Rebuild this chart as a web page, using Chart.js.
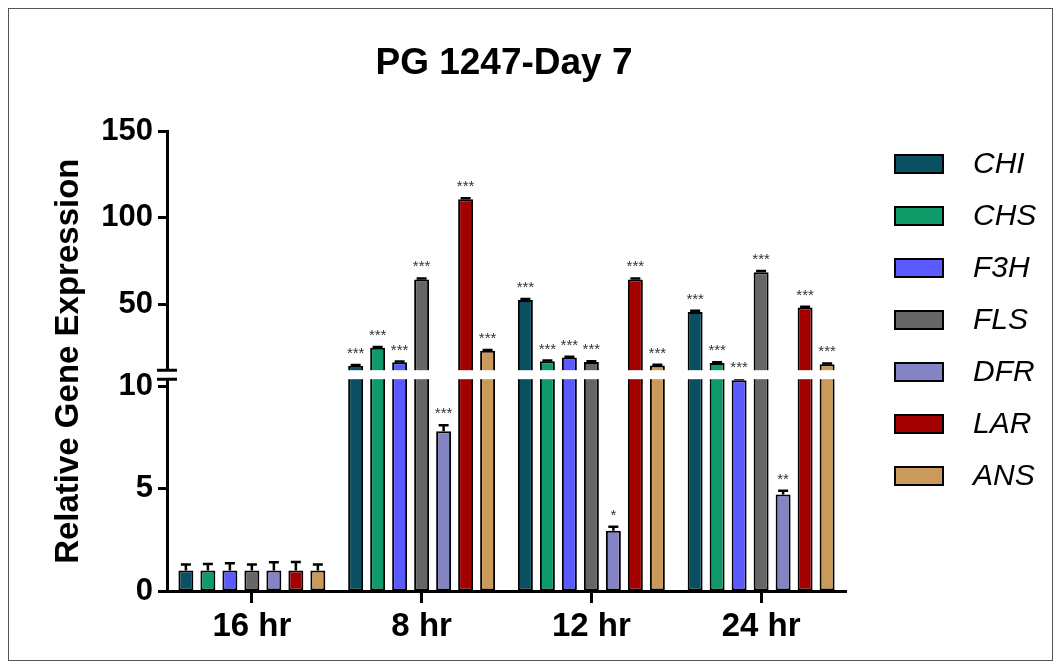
<!DOCTYPE html>
<html>
<head>
<meta charset="utf-8">
<script src="https://cdn.jsdelivr.net/npm/chart.js@4.4.1/dist/chart.umd.min.js"></script>
<style>
  html, body { margin: 0; padding: 0; background: #fff; }
  #wrap { position: relative; width: 1061px; height: 668px; }
  #frame { position: absolute; left: 8px; top: 8px; width: 1043px; height: 651px; border: 1px solid #555; pointer-events: none; }
</style>
</head>
<body>
<div id="wrap">
  <canvas id="myChart" width="1061" height="668"></canvas>
  <div id="frame"></div>
</div>
<script>
// categories and tick labels
const timePoints = ["16 hr", "8 hr", "12 hr", "24 hr"];
const yTicks = [0, 5, 10, 50, 100, 150];

// mean values per gene (16 hr, 8 hr, 12 hr, 24 hr)
const chiValues = [1.0, 14.5, 52.5, 45.7];
const chsValues = [1.0, 24.9, 17.2, 16.2];
const f3hValues = [1.0, 16.6, 19.3, 10.3];
const flsValues = [1.0, 64.4, 16.8, 68.6];
const dfrValues = [1.0, 7.8, 2.94, 4.72];
const larValues = [1.0, 110.8, 64.4, 48.2];
const ansValues = [1.0, 23.2, 14.7, 15.5];

// error bars (upper half only)
const chiErrors = [0.30, 0.5, 0.6, 0.6];
const chsErrors = [0.32, 0.5, 0.4, 0.4];
const f3hErrors = [0.35, 0.4, 0.4, 0.1];
const flsErrors = [0.30, 0.6, 0.4, 0.7];
const dfrErrors = [0.40, 0.3, 0.2, 0.18];
const larErrors = [0.42, 0.6, 0.6, 0.5];
const ansErrors = [0.30, 0.5, 0.4, 0.4];

// significance marks
const chiStars = ["", "***", "***", "***"];
const chsStars = ["", "***", "***", "***"];
const f3hStars = ["", "***", "***", "***"];
const flsStars = ["", "***", "***", "***"];
const dfrStars = ["", "***", "*", "**"];
const larStars = ["", "***", "***", "***"];
const ansStars = ["", "***", "***", "***"];

const series = [
  { label: "CHI", values: chiValues, err: chiErrors, stars: chiStars, color: "#0b4f63" },
  { label: "CHS", values: chsValues, err: chsErrors, stars: chsStars, color: "#0f9a69" },
  { label: "F3H", values: f3hValues, err: f3hErrors, stars: f3hStars, color: "#5a5aff" },
  { label: "FLS", values: flsValues, err: flsErrors, stars: flsStars, color: "#666666" },
  { label: "DFR", values: dfrValues, err: dfrErrors, stars: dfrStars, color: "#8484c4" },
  { label: "LAR", values: larValues, err: larErrors, stars: larStars, color: "#a30000" },
  { label: "ANS", values: ansValues, err: ansErrors, stars: ansStars, color: "#c99a5a" },
];

// axis break: lower segment 0..lowTop, upper segment upBottom..yMax
const lowTop = 10.35;
const upBottom = 12;
const yMax = 150;

const FONT = "Arial, 'Liberation Sans', sans-serif";
Chart.defaults.font.family = FONT;
Chart.defaults.color = "#000";

// linear scale with a break in it
class BrokenLinearScale extends Chart.LinearScale {
  buildTicks() {
    return yTicks.map(v => ({ value: v }));
  }
  segs() {
    const h = this.bottom - this.top;
    const lowPx = h * 212 / 460;
    const gapPx = h * 9 / 460;
    return { lowPx, gapPx, upPx: h - lowPx - gapPx };
  }
  getPixelForValue(v) {
    const { lowPx, gapPx, upPx } = this.segs();
    if (v <= lowTop) return this.bottom - v / lowTop * lowPx;
    if (v <= upBottom) return this.bottom - lowPx - (v - lowTop) / (upBottom - lowTop) * gapPx;
    return this.bottom - lowPx - gapPx - (v - upBottom) / (yMax - upBottom) * upPx;
  }
  getValueForPixel(p) {
    const { lowPx, gapPx, upPx } = this.segs();
    const d = this.bottom - p;
    if (d <= lowPx) return d / lowPx * lowTop;
    if (d <= lowPx + gapPx) return lowTop + (d - lowPx) / gapPx * (upBottom - lowTop);
    return upBottom + (d - lowPx - gapPx) / upPx * (yMax - upBottom);
  }
}
BrokenLinearScale.id = "brokenLinear";
BrokenLinearScale.defaults = {};
Chart.register(BrokenLinearScale);

// error bars, break, stars and legend
const annotatePlugin = {
  id: "annotate",
  afterDatasetsDraw(chart) {
    const { ctx, chartArea } = chart;
    const y = chart.scales.y;
    ctx.save();

    // error bars
    ctx.strokeStyle = "#000";
    ctx.lineWidth = 2.5;
    const tops = [];
    series.forEach((s, i) => {
      const meta = chart.getDatasetMeta(i);
      tops[i] = [];
      meta.data.forEach((bar, j) => {
        const top = y.getPixelForValue(s.values[j] + s.err[j]);
        tops[i][j] = top;
        ctx.beginPath();
        ctx.moveTo(bar.x, bar.y);
        ctx.lineTo(bar.x, top);
        ctx.moveTo(bar.x - 5, top);
        ctx.lineTo(bar.x + 5, top);
        ctx.stroke();
      });
    });

    // white band for the axis break
    const yLow = y.getPixelForValue(lowTop);
    const yHigh = y.getPixelForValue(upBottom);
    ctx.fillStyle = "#fff";
    ctx.fillRect(chartArea.left - 3, yHigh, chartArea.right - chartArea.left + 3, yLow - yHigh);
    ctx.lineWidth = 3;
    ctx.beginPath();
    ctx.moveTo(chartArea.left - 10, yHigh);
    ctx.lineTo(chartArea.left + 10, yHigh);
    ctx.moveTo(chartArea.left - 10, yLow);
    ctx.lineTo(chartArea.left + 10, yLow);
    ctx.stroke();

    // stars
    ctx.fillStyle = "#333";
    ctx.font = "15px " + FONT;
    ctx.textAlign = "center";
    ctx.textBaseline = "alphabetic";
    series.forEach((s, i) => {
      const meta = chart.getDatasetMeta(i);
      meta.data.forEach((bar, j) => {
        if (s.stars[j]) ctx.fillText(s.stars[j], bar.x, tops[i][j] - 7);
      });
    });

    // legend
    const lx = chartArea.right + 49;
    ctx.font = "italic 30px " + FONT;
    ctx.textAlign = "left";
    ctx.textBaseline = "middle";
    series.forEach((s, i) => {
      const cy = 164 + i * 52;
      ctx.fillStyle = s.color;
      ctx.fillRect(lx, cy - 9, 48, 18);
      ctx.lineWidth = 2;
      ctx.strokeStyle = "#000";
      ctx.strokeRect(lx, cy - 9, 48, 18);
      ctx.fillStyle = "#000";
      ctx.fillText(s.label, lx + 78, cy + 1);
    });
    ctx.restore();
  }
};

const ctx = document.getElementById("myChart").getContext("2d");
const chart = new Chart(ctx, {
  type: "bar",
  data: {
    labels: timePoints,
    datasets: series.map(s => ({
      label: s.label,
      data: s.values,
      yAxisID: "y",
      backgroundColor: s.color,
      borderColor: "#000",
      borderWidth: 2,
      borderSkipped: false,
      categoryPercentage: 0.907,
      barPercentage: 0.68,
    })),
  },
  options: {
    responsive: false,
    animation: false,
    layout: { padding: { left: 0, right: 53, top: 0, bottom: 0 } },
    plugins: {
      legend: { display: false },
      tooltip: { enabled: false },
      title: {
        display: true,
        text: "PG 1247-Day 7",
        color: "#000",
        font: { size: 37, weight: "bold" },
        padding: { top: 42, bottom: 45 },
      },
    },
    scales: {
      x: {
        grid: { display: true, offset: false, drawOnChartArea: false, tickLength: 12, tickWidth: 3, tickColor: "#000" },
        border: { display: true, color: "#000", width: 3 },
        ticks: { color: "#000", font: { size: 33, weight: "bold" }, padding: 4 },
        afterFit: s => { s.height = 77; },
      },
      y: {
        type: "brokenLinear",
        min: 0,
        max: yMax,
        grid: { display: true, drawOnChartArea: false, tickLength: 9, tickWidth: 3, tickColor: "#000" },
        border: { display: true, color: "#000", width: 3 },
        ticks: { autoSkip: false, color: "#000", font: { size: 31, weight: "bold" }, padding: 5, callback: v => String(v) },
        title: {
          display: true,
          text: "Relative Gene Expression",
          color: "#000",
          font: { size: 33, weight: "bold" },
          padding: { top: 49, bottom: 0 },
        },
        afterFit: s => { s.width = 167; },
      },
      // empty box that keeps room for the legend on the right
      legendSpace: {
        type: "linear",
        axis: "y",
        position: "right",
        display: true,
        grid: { display: false },
        border: { display: false },
        ticks: { display: false },
        afterFit: s => { s.width = 162; },
      },
    },
  },
  plugins: [annotatePlugin],
});
</script>
</body>
</html>
